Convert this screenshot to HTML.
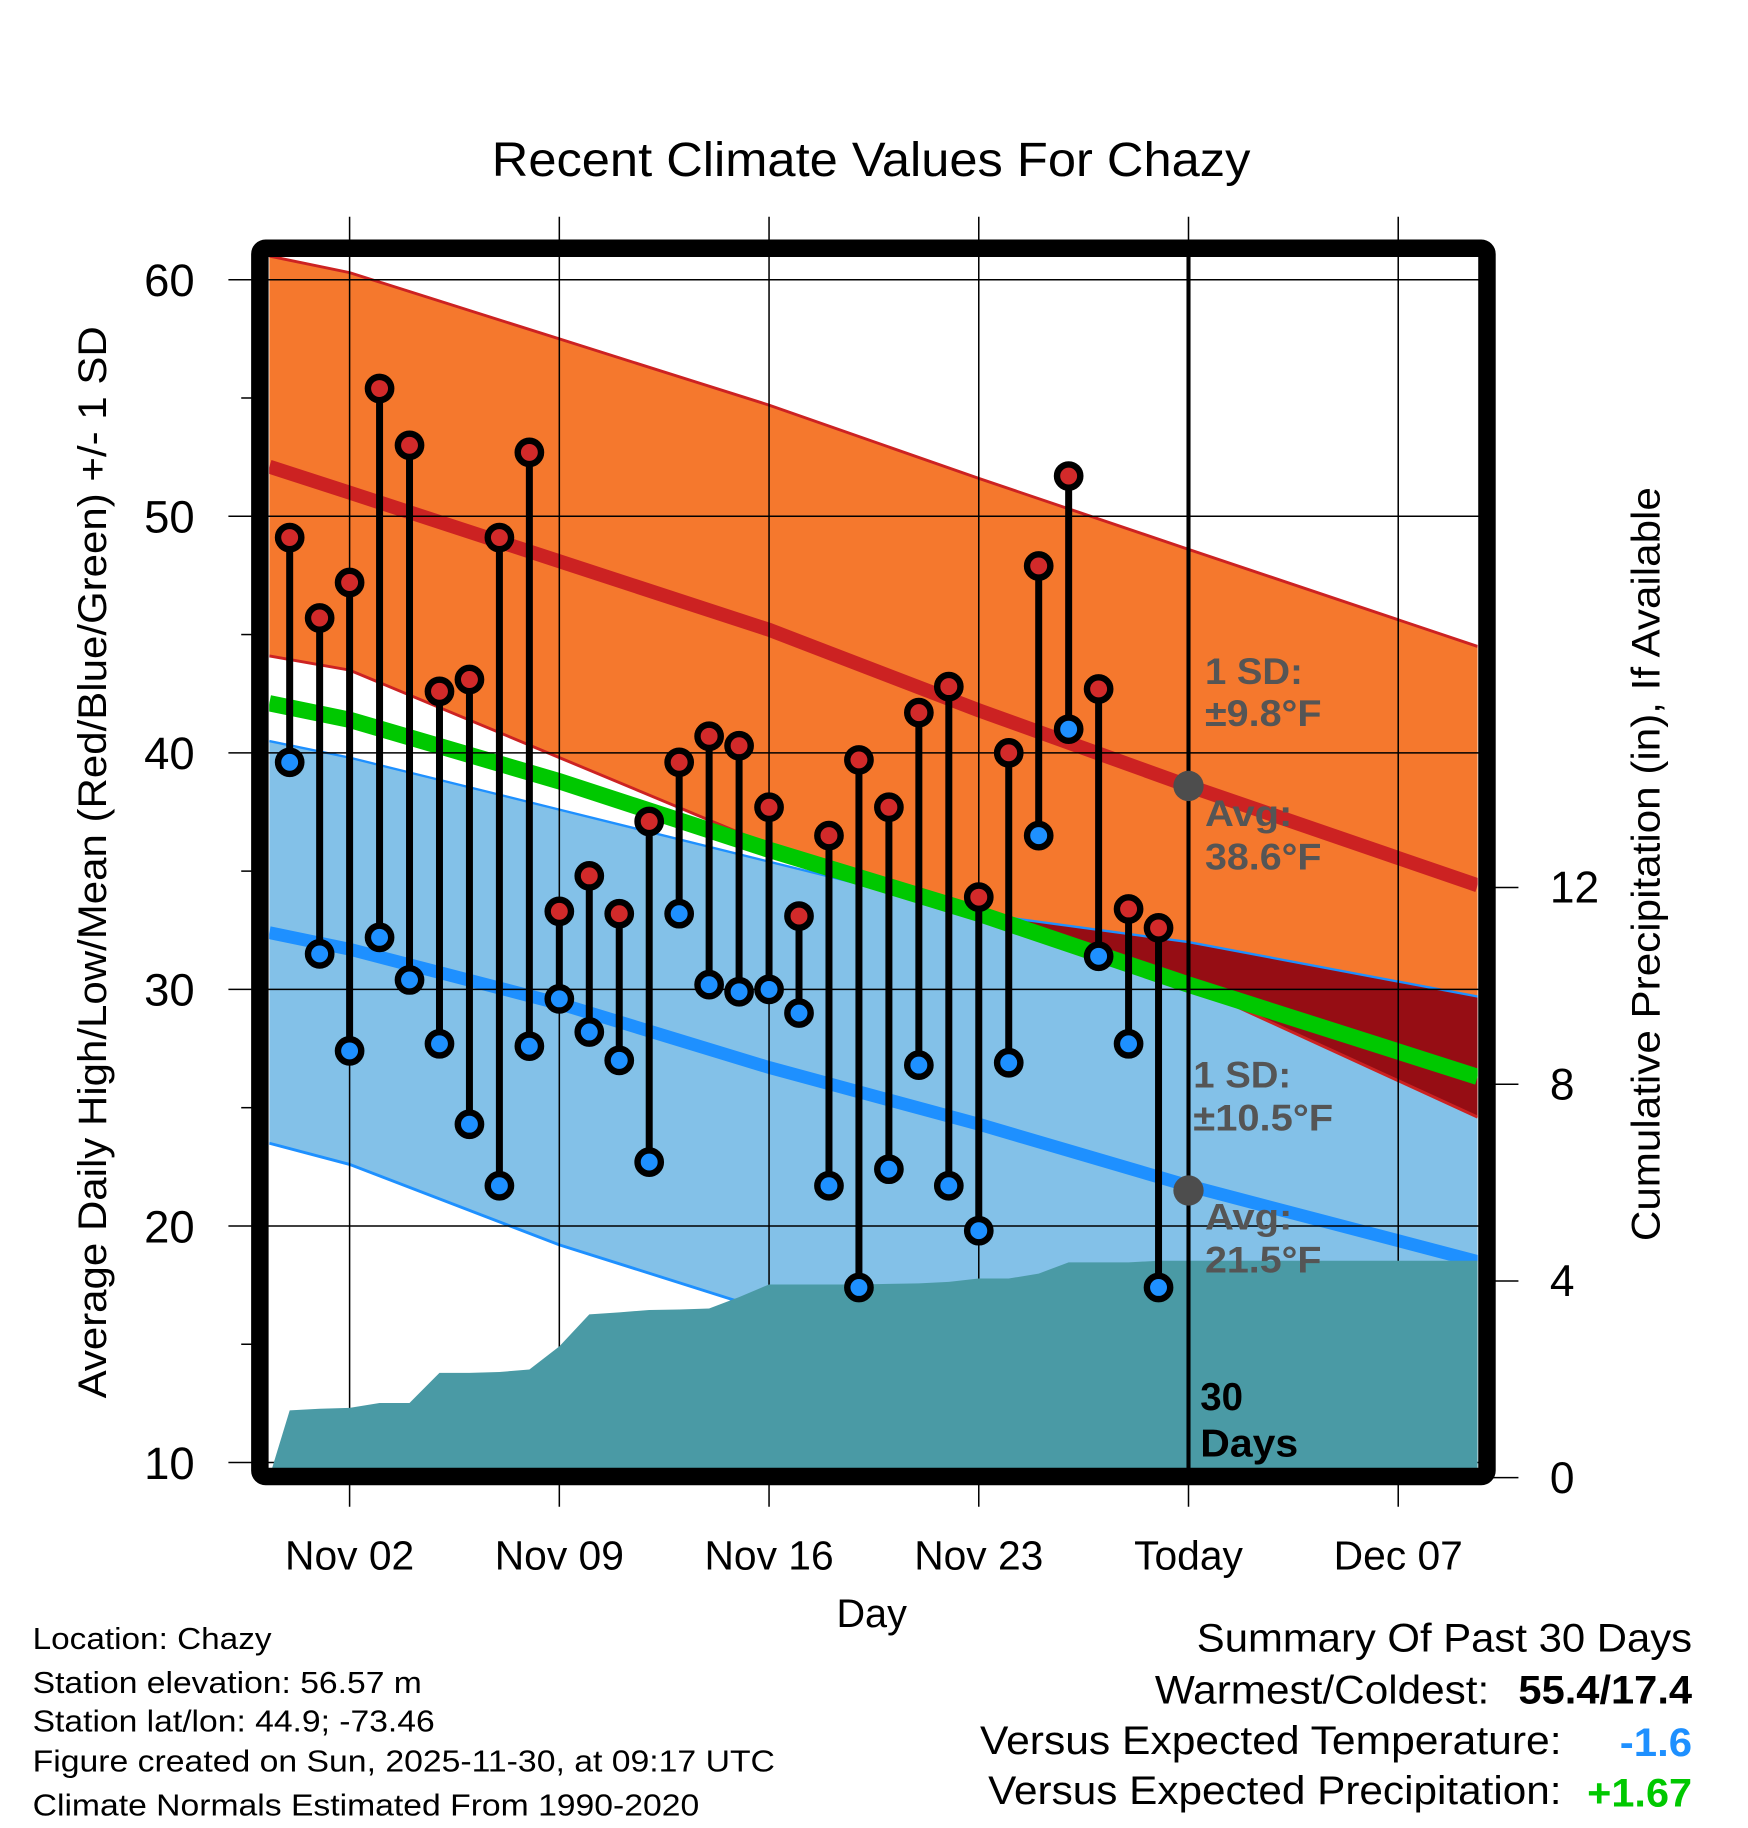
<!DOCTYPE html>
<html><head><meta charset="utf-8"><style>
html,body{margin:0;padding:0;background:#fff;}
svg{display:block;font-family:"Liberation Sans",Arial,sans-serif;}
</style></head><body>
<svg id="chart" width="1748" height="1828" viewBox="0 0 1500 1568.6" xmlns="http://www.w3.org/2000/svg">
<defs><clipPath id="plotclip"><rect x="231" y="220" width="1037" height="1040"/></clipPath></defs>
<text x="422" y="151" font-size="41" textLength="651" lengthAdjust="spacingAndGlyphs">Recent Climate Values For Chazy</text>
<g id="bands" clip-path="url(#plotclip)"></g>
<g id="grid"></g>
<g id="marks" clip-path="url(#plotclip)"></g>
<g id="axes"></g>
<text transform="translate(91,1200) rotate(-90)" font-size="34" textLength="920" lengthAdjust="spacingAndGlyphs">Average Daily High/Low/Mean (Red/Blue/Green) +/- 1 SD</text>
<text transform="translate(1424,1065) rotate(-90)" font-size="34" textLength="647" lengthAdjust="spacingAndGlyphs">Cumulative Precipitation (in), If Available</text>
<text x="748" y="1396" font-size="34" text-anchor="middle">Day</text>
<g font-size="26" lengthAdjust="spacingAndGlyphs">
<text x="28" y="1415" textLength="205" lengthAdjust="spacingAndGlyphs">Location: Chazy</text>
<text x="28" y="1453" textLength="334" lengthAdjust="spacingAndGlyphs">Station elevation: 56.57 m</text>
<text x="28" y="1486" textLength="345" lengthAdjust="spacingAndGlyphs">Station lat/lon: 44.9; -73.46</text>
<text x="28" y="1520" textLength="637" lengthAdjust="spacingAndGlyphs">Figure created on Sun, 2025-11-30, at 09:17 UTC</text>
<text x="28" y="1558" textLength="572" lengthAdjust="spacingAndGlyphs">Climate Normals Estimated From 1990-2020</text>
</g>
<g font-size="34">
<text x="1027" y="1417" textLength="425" lengthAdjust="spacingAndGlyphs">Summary Of Past 30 Days</text>
<text x="991" y="1462" textLength="287" lengthAdjust="spacingAndGlyphs">Warmest/Coldest:</text>
<text x="1303" y="1462" font-weight="bold" textLength="149" lengthAdjust="spacingAndGlyphs">55.4/17.4</text>
<text x="841" y="1505" textLength="499" lengthAdjust="spacingAndGlyphs">Versus Expected Temperature:</text>
<text x="1390" y="1507" font-weight="bold" fill="#1e90ff" textLength="62" lengthAdjust="spacingAndGlyphs">-1.6</text>
<text x="848" y="1548" textLength="492" lengthAdjust="spacingAndGlyphs">Versus Expected Precipitation:</text>
<text x="1362" y="1550" font-weight="bold" fill="#00c800" textLength="90" lengthAdjust="spacingAndGlyphs">+1.67</text>
</g>
</svg>
<script>
// ---- data ----
const highs = [49.1,45.7,47.2,55.4,53.0,42.6,43.1,49.1,52.7,33.3,34.8,33.2,37.1,39.6,40.7,40.3,37.7,33.1,36.5,39.7,37.7,41.7,42.8,33.9,40.0,47.9,51.7,42.7,33.4,32.6];
const lows  = [39.6,31.5,27.4,32.2,30.4,27.7,24.3,21.7,27.6,29.6,28.2,27.0,22.7,33.2,30.2,29.9,30.0,29.0,21.7,17.4,22.4,26.8,21.7,19.8,26.9,36.5,41.0,31.4,27.7,17.4];
const precipCum = [1.37,1.40,1.42,1.52,1.52,2.13,2.13,2.15,2.20,2.67,3.32,3.36,3.41,3.42,3.44,3.67,3.93,3.93,3.93,3.93,3.94,3.95,3.98,4.05,4.05,4.15,4.38,4.38,4.38,4.41];
const bandDays = [-1.68,1,8,15,22,29,38.65];
const normHighUpper = [61.0,60.3,57.5,54.7,51.6,48.6,44.5];
const normHigh      = [52.1,51.0,48.1,45.2,41.8,38.6,34.4];
const normHighLower = [44.1,43.5,39.8,36.1,33.2,30.2,24.6];
const normMean      = [42.1,41.4,38.8,35.9,33.2,30.2,26.3];
const normLowUpper  = [40.5,39.8,37.6,35.4,33.2,32.0,29.7];
const normLow       = [32.4,31.7,29.4,26.7,24.3,21.7,18.5];
const normLowLower  = [23.5,22.6,19.2,16.4,13.4,10.7,7.7];
const yTicks = [10,20,30,40,50,60];
const yMinor = [15,25,35,45,55];
const pTicks = [0,4,8,12];
const xTickDays = [1,8,15,22,29,36];
const xTickLabels = ["Nov 02","Nov 09","Nov 16","Nov 23","Today","Dec 07"];
const firstDay = -1;
// ---- scales ----
const X = d => 300 + (d-1)*25.71;
const Y = t => 240 + (60-t)*20.3;
const P = p => 1268 - p*42.2;
const NS = "http://www.w3.org/2000/svg";
function mk(tag, attrs, parent){const e=document.createElementNS(NS,tag);for(const k in attrs)e.setAttribute(k,attrs[k]);parent.appendChild(e);return e;}
const bands=document.getElementById('bands'), grid=document.getElementById('grid'), marks=document.getElementById('marks'), axes=document.getElementById('axes');
const pts = arr => bandDays.map((d,i)=>X(d).toFixed(1)+","+Y(arr[i]).toFixed(1));
function bandPath(up,lo){return "M"+pts(up).join(" L")+" L"+pts(lo).reverse().join(" L")+" Z";}
let e;
e=mk('path',{d:bandPath(normHighUpper,normHighLower),fill:'#f5782d'},bands);


e=mk('path',{d:bandPath(normLowUpper,normLowLower),fill:'#83c1e8'},bands);


mk('clipPath',{id:'lowclip'},bands).appendChild((()=>{const p=document.createElementNS(NS,'path');p.setAttribute('d',bandPath(normLowUpper,normLowLower));return p;})());
e=mk('path',{d:bandPath(normHighUpper,normHighLower),fill:'#960d14','clip-path':'url(#lowclip)'},bands);


function line(arr,color,w,name){const l=mk('polyline',{points:pts(arr).join(" "),fill:'none',stroke:color,'stroke-width':w},bands);

}
line(normHighUpper,'#cc2222',2.5,'high-upper-sd-line');
line(normHighLower,'#cc2222',2.5,'high-lower-sd-line');
line(normLowUpper,'#1e90ff',2,'low-upper-sd-line');
line(normLowLower,'#1e90ff',2.5,'low-lower-sd-line');
line(normHigh,'#cc2222',12,'normal-high-line');
line(normLow,'#1e90ff',11,'normal-low-line');
line(normMean,'#00c800',14,'normal-mean-line');
// precip
let pp="M231,"+P(0)+" ";
precipCum.forEach((v,i)=>{pp+="L"+X(firstDay+i).toFixed(1)+","+P(v).toFixed(1)+" ";});
pp+="L1268,"+P(precipCum[precipCum.length-1]).toFixed(1)+" L1268,1268 L231,1268 Z";
// grid
yTicks.forEach(t=>{const g=mk('line',{x1:196,x2:1276,y1:Y(t),y2:Y(t),stroke:'#000','stroke-width':1.3},grid);


const tx=mk('text',{x:167,y:Y(t)+14,'font-size':39,'text-anchor':'end'},axes);tx.textContent=t;

});
yMinor.forEach(t=>{mk('line',{x1:207,x2:220,y1:Y(t),y2:Y(t),stroke:'#000','stroke-width':1.3},grid);});
xTickDays.forEach((d,i)=>{const g=mk('line',{x1:X(d),x2:X(d),y1:186,y2:1293,stroke:'#000','stroke-width':1.3},grid);


const tx=mk('text',{x:X(d),y:1347,'font-size':35,'text-anchor':'middle'},axes);tx.textContent=xTickLabels[i];

});
pTicks.forEach(p=>{mk('line',{x1:1276,x2:1303,y1:P(p),y2:P(p),stroke:'#000','stroke-width':1.3},axes);
const tx=mk('text',{x:1330,y:P(p)+13,'font-size':38},axes);tx.textContent=p;

});
e=mk('path',{d:pp,fill:'#4a9aa5'},marks);


// today line
e=mk('line',{x1:X(29),x2:X(29),y1:213,y2:1267,stroke:'#000','stroke-width':3.5},marks);


// annotations
function txt(x,y,s,fill,size,name,len){const t=mk('text',{x:x,y:y,'font-size':size,'font-weight':'bold',fill:fill},marks);t.textContent=s;
if(len){t.setAttribute('textLength',len);t.setAttribute('lengthAdjust','spacingAndGlyphs');}

}
txt(1034,587,"1 SD:","#555",32,'high-sd-label',84);
txt(1034,623,"±9.8°F","#555",32,'high-sd-value',100);
txt(1034,709,"Avg:","#555",32,'high-avg-label',75);
txt(1034,746,"38.6°F","#555",32,'high-avg-value',100);
txt(1024,933,"1 SD:","#555",32,'low-sd-label',84);
txt(1024,970,"±10.5°F","#555",32,'low-sd-value',120);
txt(1034,1055,"Avg:","#555",32,'low-avg-label',75);
txt(1034,1092,"21.5°F","#555",32,'low-avg-value',100);
txt(1030,1210,"30","#000",33,'days-label-num');
txt(1030,1250,"Days","#000",33,'days-label',84);
e=mk('circle',{cx:X(29),cy:Y(normHigh[5]),r:13,fill:'#4d4d4d'},marks);


e=mk('circle',{cx:X(29),cy:Y(21.5),r:13,fill:'#4d4d4d'},marks);


// daily stems
highs.forEach((h,i)=>{const x=X(firstDay+i);
const s=mk('line',{x1:x,x2:x,y1:Y(h),y2:Y(lows[i]),stroke:'#000','stroke-width':6},marks);


const c1=mk('circle',{cx:x,cy:Y(h),r:10,fill:'#d22a2a',stroke:'#000','stroke-width':5.5},marks);


const c2=mk('circle',{cx:x,cy:Y(lows[i]),r:10,fill:'#1e90ff',stroke:'#000','stroke-width':5.5},marks);

});
// frame
e=mk('rect',{x:223,y:213,width:1053,height:1054,rx:5,fill:'none',stroke:'#000','stroke-width':15},axes);


</script>
</body></html>
